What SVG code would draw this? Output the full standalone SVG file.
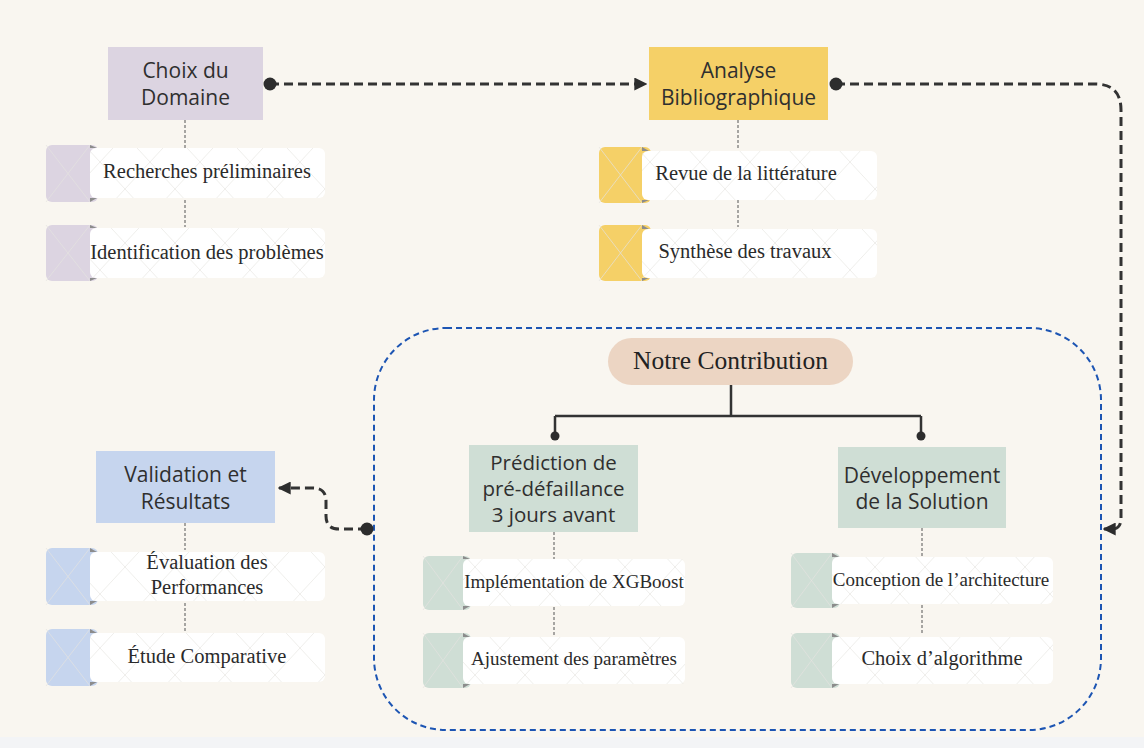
<svg xmlns="http://www.w3.org/2000/svg" width="1144" height="748" viewBox="0 0 1144 748">
<style>
.bg{fill:#f9f6f0}
.main{font-family:"Open Sans","Liberation Sans",sans-serif;font-size:21px;fill:#2f2f2f;text-anchor:middle}
.sm{font-size:20.5px}
.card{font-family:"Liberation Serif","Times New Roman",serif;font-size:20.5px;fill:#2a2a2a;text-anchor:middle}
.cs{font-size:19px}
.pill{font-family:"Liberation Serif","Times New Roman",serif;font-size:25.5px;fill:#222;text-anchor:middle}
.white{fill:#ffffff}
.wm{stroke:#e4e2df;stroke-width:0.7;fill:none}
.tab{fill:#8c8c8c}
.conn{fill:none;stroke:#333;stroke-width:3;stroke-dasharray:9 5}
.dot{fill:#2d2d2d}
.tree{fill:none;stroke:#333;stroke-width:2.5}
.vdot{stroke:#555;stroke-width:1;stroke-dasharray:3 2}
.lav{fill:#dcd4e1}.yel{fill:#f5d067}.blu{fill:#c6d5ee}.grn{fill:#cfded5}
</style>
<defs>
<marker id="arr" viewBox="0 0 10 10" refX="9" refY="5" markerWidth="13" markerHeight="13" markerUnits="userSpaceOnUse" orient="auto">
<path d="M0,0 L10,5 L0,10 z" fill="#2d2d2d"/>
</marker>
<pattern id="xp" width="50" height="54" patternUnits="userSpaceOnUse">
<path d="M0,0 L50,54 M50,0 L0,54" stroke="#e8e6e3" stroke-width="0.7" fill="none"/>
</pattern>
</defs>
<rect class="bg" x="0" y="0" width="1144" height="748"/>
<rect x="0" y="737" width="1144" height="11" fill="#f3f4f6"/>

<g id="container">
<rect x="374" y="328" width="727" height="402" rx="72" ry="72" fill="none" stroke="#1d55b3" stroke-width="2" stroke-dasharray="6 4"/>
</g>

<g id="connectors">
<path class="conn" d="M270,84 H646" marker-end="url(#arr)"/>
<circle class="dot" cx="270" cy="84" r="6.5"/>
<path class="conn" d="M836,84 H1095 Q1121,84 1121,110 V518 Q1121,529 1112,529 H1104" marker-end="url(#arr)"/>
<circle class="dot" cx="836" cy="84" r="6.5"/>
<path class="conn" d="M367,529 H339 Q326,529 326,516 V501 Q326,488 313,488 H279" marker-end="url(#arr)"/>
<circle class="dot" cx="367" cy="529" r="6.5"/>
<path class="tree" d="M731,385 V416 M555,416 H921 M555,416 V436 M921,416 V436"/>
<circle class="dot" cx="555" cy="436" r="4.5"/>
<circle class="dot" cx="921" cy="436" r="4.5"/>
<line class="vdot" x1="185" y1="120" x2="185" y2="148"/>
<line class="vdot" x1="185" y1="200" x2="185" y2="227"/>
<line class="vdot" x1="738" y1="120" x2="738" y2="150"/>
<line class="vdot" x1="738" y1="200" x2="738" y2="227"/>
<line class="vdot" x1="185" y1="523" x2="185" y2="550"/>
<line class="vdot" x1="185" y1="603" x2="185" y2="632"/>
<line class="vdot" x1="554" y1="532" x2="554" y2="559"/>
<line class="vdot" x1="554" y1="607" x2="554" y2="635"/>
<line class="vdot" x1="922" y1="528" x2="922" y2="557"/>
<line class="vdot" x1="922" y1="605" x2="922" y2="635"/>
</g>

<g id="choix-domaine">
<rect class="lav" x="108" y="47" width="155" height="73"/>
<text class="main" x="185.5" y="78">Choix du</text>
<text class="main" x="185.5" y="105">Domaine</text>
</g>
<g id="analyse-biblio">
<rect class="yel" x="649" y="47" width="179" height="73"/>
<text class="main" x="738.5" y="78">Analyse</text>
<text class="main" x="738.5" y="105">Bibliographique</text>
</g>
<g id="validation">
<rect class="blu" x="96" y="451" width="179" height="72"/>
<text class="main" x="185.5" y="482">Validation et</text>
<text class="main" x="185.5" y="509">Résultats</text>
</g>
<g id="notre-contribution">
<rect x="608" y="338" width="245" height="47" rx="23.5" fill="#ecd5c3"/>
<text class="pill" x="730.5" y="369">Notre Contribution</text>
</g>
<g id="prediction">
<rect class="grn" x="469" y="445" width="169" height="87"/>
<text class="main sm" x="553.5" y="470">Prédiction de</text>
<text class="main sm" x="553.5" y="496">pré-défaillance</text>
<text class="main sm" x="553.5" y="522">3 jours avant</text>
</g>
<g id="developpement">
<rect class="grn" x="838" y="447" width="168" height="81"/>
<text class="main" x="922" y="483">Développement</text>
<text class="main" x="922" y="509">de la Solution</text>
</g>

<g id="card-recherches">
<rect class="lav" x="46" y="145" width="52" height="57" rx="6"/>
<rect class="white" x="90" y="148" width="235" height="50" rx="6"/>
<rect x="90" y="148" width="235" height="50" fill="url(#xp)"/>
<path class="wm" d="M46,145 L90,202 M90,145 L46,202"/>
<path class="tab" d="M90,145 L97,148 L90,148 z M90,202 L97,198 L90,198 z"/>
<text class="card" x="207" y="178">Recherches préliminaires</text>
</g>
<g id="card-identification">
<rect class="lav" x="46" y="225" width="52" height="56" rx="6"/>
<rect class="white" x="90" y="228" width="235" height="50" rx="6"/>
<rect x="90" y="228" width="235" height="50" fill="url(#xp)"/>
<path class="wm" d="M46,225 L90,281 M90,225 L46,281"/>
<path class="tab" d="M90,225 L97,228 L90,228 z M90,281 L97,278 L90,278 z"/>
<text class="card" x="207" y="259">Identification des problèmes</text>
</g>
<g id="card-revue">
<rect class="yel" x="599" y="147" width="52" height="56" rx="6"/>
<rect class="white" x="642" y="151" width="235" height="49" rx="6"/>
<rect x="642" y="151" width="235" height="49" fill="url(#xp)"/>
<path class="wm" d="M599,147 L642,203 M642,147 L599,203"/>
<path class="tab" d="M642,147 L649,151 L642,151 z M642,203 L649,200 L642,200 z"/>
<text class="card" x="746" y="180">Revue de la littérature</text>
</g>
<g id="card-synthese">
<rect class="yel" x="599" y="225" width="52" height="56" rx="6"/>
<rect class="white" x="642" y="229" width="235" height="49" rx="6"/>
<rect x="642" y="229" width="235" height="49" fill="url(#xp)"/>
<path class="wm" d="M599,225 L642,281 M642,225 L599,281"/>
<path class="tab" d="M642,225 L649,229 L642,229 z M642,281 L649,278 L642,278 z"/>
<text class="card" x="745" y="258">Synthèse des travaux</text>
</g>
<g id="card-evaluation">
<rect class="blu" x="46" y="548" width="52" height="57" rx="6"/>
<rect class="white" x="90" y="552" width="235" height="49" rx="6"/>
<rect x="90" y="552" width="235" height="49" fill="url(#xp)"/>
<path class="wm" d="M46,548 L90,605 M90,548 L46,605"/>
<path class="tab" d="M90,548 L97,552 L90,552 z M90,605 L97,601 L90,601 z"/>
<text class="card" x="207" y="569">Évaluation des</text>
<text class="card" x="207" y="594">Performances</text>
</g>
<g id="card-etude">
<rect class="blu" x="46" y="629" width="52" height="57" rx="6"/>
<rect class="white" x="90" y="633" width="235" height="49" rx="6"/>
<rect x="90" y="633" width="235" height="49" fill="url(#xp)"/>
<path class="wm" d="M46,629 L90,686 M90,629 L46,686"/>
<path class="tab" d="M90,629 L97,633 L90,633 z M90,686 L97,682 L90,682 z"/>
<text class="card" x="207" y="663">Étude Comparative</text>
</g>
<g id="card-xgboost">
<rect class="grn" x="423" y="556" width="48" height="54" rx="6"/>
<rect class="white" x="463" y="559" width="222" height="47" rx="6"/>
<rect x="463" y="559" width="222" height="47" fill="url(#xp)"/>
<path class="wm" d="M423,556 L463,610 M463,556 L423,610"/>
<path class="tab" d="M463,556 L470,559 L463,559 z M463,610 L470,606 L463,606 z"/>
<text class="card cs" x="574" y="588">Implémentation de XGBoost</text>
</g>
<g id="card-ajustement">
<rect class="grn" x="423" y="633" width="48" height="55" rx="6"/>
<rect class="white" x="463" y="637" width="222" height="47" rx="6"/>
<rect x="463" y="637" width="222" height="47" fill="url(#xp)"/>
<path class="wm" d="M423,633 L463,688 M463,633 L423,688"/>
<path class="tab" d="M463,633 L470,637 L463,637 z M463,688 L470,684 L463,684 z"/>
<text class="card cs" x="574" y="665">Ajustement des paramètres</text>
</g>
<g id="card-conception">
<rect class="grn" x="791" y="553" width="49" height="55" rx="6"/>
<rect class="white" x="832" y="557" width="221" height="47" rx="6"/>
<rect x="832" y="557" width="221" height="47" fill="url(#xp)"/>
<path class="wm" d="M791,553 L832,608 M832,553 L791,608"/>
<path class="tab" d="M832,553 L839,557 L832,557 z M832,608 L839,604 L832,604 z"/>
<text class="card cs" x="941" y="586">Conception de l’architecture</text>
</g>
<g id="card-choix-algo">
<rect class="grn" x="791" y="633" width="49" height="55" rx="6"/>
<rect class="white" x="832" y="637" width="221" height="47" rx="6"/>
<rect x="832" y="637" width="221" height="47" fill="url(#xp)"/>
<path class="wm" d="M791,633 L832,688 M832,633 L791,688"/>
<path class="tab" d="M832,633 L839,637 L832,637 z M832,688 L839,684 L832,684 z"/>
<text class="card" x="942" y="665">Choix d’algorithme</text>
</g>
</svg>
